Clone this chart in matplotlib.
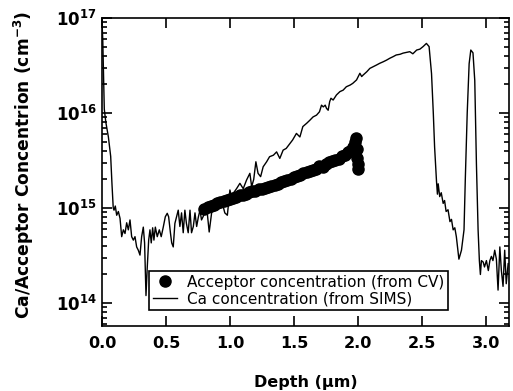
import matplotlib
matplotlib.use("Agg")
import matplotlib.pyplot as plt
from matplotlib.ticker import LogLocator, FixedLocator, FixedFormatter, NullFormatter

# Ca concentration from SIMS
ca_depth = [0.000, 0.006, 0.012, 0.018, 0.030, 0.050, 0.068, 0.078, 0.088, 0.094,
            0.104, 0.115, 0.128, 0.141, 0.154, 0.167, 0.180, 0.193, 0.206, 0.219,
            0.232, 0.245, 0.258, 0.271, 0.284, 0.297, 0.310, 0.323, 0.333, 0.344,
            0.354, 0.365, 0.375, 0.385, 0.396, 0.406, 0.417, 0.432, 0.448, 0.463,
            0.479, 0.495, 0.510, 0.521, 0.535, 0.545, 0.557, 0.570, 0.583, 0.596,
            0.609, 0.622, 0.635, 0.648, 0.660, 0.674, 0.688, 0.700, 0.714, 0.727,
            0.740, 0.753, 0.766, 0.778, 0.790, 0.805, 0.818, 0.838, 0.857, 0.870,
            0.883, 0.896, 0.909, 0.922, 0.935, 0.960, 0.980, 1.000, 1.013, 1.026,
            1.052, 1.078, 1.104, 1.130, 1.156, 1.170, 1.186, 1.203, 1.220, 1.240,
            1.260, 1.287, 1.310, 1.340, 1.365, 1.390, 1.416, 1.440, 1.470, 1.490,
            1.520, 1.547, 1.570, 1.600, 1.625, 1.650, 1.677, 1.700, 1.716, 1.730,
            1.745, 1.755, 1.768, 1.780, 1.790, 1.807, 1.833, 1.860, 1.885, 1.910,
            1.940, 1.960, 1.990, 2.016, 2.030, 2.040, 2.070, 2.094, 2.120, 2.146,
            2.170, 2.200, 2.224, 2.250, 2.276, 2.300, 2.330, 2.354, 2.380, 2.406,
            2.430, 2.460, 2.485, 2.510, 2.536, 2.557, 2.576, 2.590, 2.600, 2.615,
            2.622, 2.628, 2.640, 2.652, 2.667, 2.678, 2.690, 2.705, 2.720, 2.732,
            2.745, 2.758, 2.770, 2.790, 2.810, 2.830, 2.840, 2.855, 2.870, 2.883,
            2.900, 2.914, 2.927, 2.940, 2.950, 2.958, 2.966, 2.980, 2.990, 3.005,
            3.020, 3.032, 3.044, 3.056, 3.070, 3.083, 3.096, 3.110, 3.122, 3.135,
            3.148, 3.160, 3.175]
ca_conc = [9.0e16, 6.0e16, 2.5e16, 1.1e16, 8.0e15, 5.6e15, 3.5e15, 1.8e15, 1.0e15, 9.5e14,
           1.05e15, 8.4e14, 9.2e14, 7.8e14, 5.0e14, 5.9e14, 5.4e14, 7.0e14, 5.9e14, 7.5e14,
           5.0e14, 4.6e14, 5.0e14, 3.9e14, 3.6e14, 3.2e14, 5.0e14, 6.3e14, 4.3e14, 1.2e14,
           2.4e14, 4.6e14, 5.9e14, 4.3e14, 6.2e14, 4.6e14, 6.3e14, 5.0e14, 5.9e14, 5.0e14,
           6.3e14, 8.1e14, 8.8e14, 8.1e14, 5.5e14, 4.3e14, 3.9e14, 6.9e14, 8.1e14, 9.5e14,
           6.4e14, 8.9e14, 5.5e14, 9.5e14, 6.9e14, 5.5e14, 9.5e14, 5.5e14, 6.4e14, 8.9e14,
           6.4e14, 8.0e14, 9.5e14, 7.5e14, 8.1e14, 9.0e14, 1.03e15, 5.6e14, 8.9e14, 1.0e15,
           1.12e15, 9.8e14, 1.03e15, 1.1e15, 1.21e15, 8.9e14, 8.4e14, 1.55e15, 1.3e15, 1.43e15,
           1.6e15, 1.82e15, 1.6e15, 1.97e15, 2.32e15, 1.68e15, 2.0e15, 3.07e15, 2.32e15, 2.14e15,
           2.72e15, 3.07e15, 3.47e15, 3.6e15, 3.9e15, 3.33e15, 4.07e15, 4.24e15, 4.8e15, 5.2e15,
           6.1e15, 5.6e15, 7.2e15, 7.8e15, 8.4e15, 9.1e15, 9.5e15, 1.03e16, 1.21e16, 1.16e16,
           1.21e16, 1.12e16, 1.07e16, 1.32e16, 1.43e16, 1.37e16, 1.55e16, 1.68e16, 1.74e16, 1.89e16,
           1.97e16, 2.05e16, 2.23e16, 2.62e16, 2.42e16, 2.5e16, 2.72e16, 2.95e16, 3.07e16, 3.2e16,
           3.33e16, 3.47e16, 3.6e16, 3.77e16, 3.92e16, 4.08e16, 4.15e16, 4.27e16, 4.35e16, 4.42e16,
           4.2e16, 4.6e16, 4.7e16, 5.0e16, 5.4e16, 5.0e16, 2.6e16, 9.9e15, 4.4e15, 1.9e15,
           1.4e15, 1.8e15, 1.32e15, 1.45e15, 1.12e15, 1.2e15, 9.2e14, 9.6e14, 7.2e14, 7.6e14,
           5.9e14, 6.2e14, 5.0e14, 2.9e14, 3.6e14, 5.9e14, 2.0e15, 1.0e16, 3.3e16, 4.6e16,
           4.3e16, 2.2e16, 2.9e15, 5.9e14, 2.8e14, 2.0e14, 2.8e14, 2.7e14, 2.4e14, 2.8e14,
           2.2e14, 2.8e14, 3.1e14, 2.8e14, 3.6e14, 2.9e14, 1.37e14, 3.9e14, 2.2e14, 1.5e14,
           3.6e14, 1.6e14, 2.6e14]

# acceptor concentration from CV
cv_depth = [0.800, 0.825, 0.850, 0.875, 0.900, 0.925, 0.950, 0.975, 1.000, 1.025,
            1.050, 1.075, 1.100, 1.125, 1.150, 1.175, 1.200, 1.225, 1.250, 1.275,
            1.300, 1.325, 1.350, 1.375, 1.400, 1.425, 1.450, 1.475, 1.500, 1.525,
            1.550, 1.575, 1.600, 1.625, 1.650, 1.675, 1.700, 1.725, 1.750, 1.775,
            1.800, 1.825, 1.850, 1.875, 1.900, 1.920, 1.940, 1.960, 1.975, 1.985,
            1.990, 1.995, 2.000, 2.005]
cv_conc = [9.8e14, 1.02e15, 1.06e15, 1.08e15, 1.12e15, 1.15e15, 1.18e15, 1.22e15, 1.25e15, 1.28e15,
           1.32e15, 1.36e15, 1.38e15, 1.42e15, 1.46e15, 1.50e15, 1.53e15, 1.57e15, 1.60e15, 1.64e15,
           1.68e15, 1.72e15, 1.76e15, 1.80e15, 1.86e15, 1.92e15, 1.98e15, 2.04e15, 2.10e15, 2.16e15,
           2.24e15, 2.32e15, 2.38e15, 2.45e15, 2.52e15, 2.60e15, 2.80e15, 2.70e15, 2.90e15, 3.05e15,
           3.1e15, 3.2e15, 3.3e15, 3.5e15, 3.6e15, 3.9e15, 4.0e15, 4.4e15, 5.0e15, 5.5e15,
           4.2e15, 3.4e15, 2.9e15, 2.6e15]

x_ticks = [0.0, 0.5, 1.0, 1.5, 2.0, 2.5, 3.0]
y_ticks = [1e14, 1e15, 1e16, 1e17]
y_tick_labels = [r"$\mathbf{10^{14}}$", r"$\mathbf{10^{15}}$", r"$\mathbf{10^{16}}$", r"$\mathbf{10^{17}}$"]

plt.rcParams["font.family"] = ["DejaVu Sans"]
plt.rcParams["mathtext.fontset"] = "dejavusans"

fig = plt.figure(figsize=(5.13, 3.91), dpi=100)
ax = fig.add_axes([0.1988, 0.166, 0.793, 0.788])

ax.plot(cv_depth, cv_conc, "o", color="black", markersize=8, linestyle="none",
        label="Acceptor concentration (from CV)")
ax.plot(ca_depth, ca_conc, "-", color="black", linewidth=1.0,
        label="Ca concentration (from SIMS)")

ax.set_yscale("log")
ax.set_xlim(0, 3.18)
ax.set_ylim(10 ** 13.758, 1e17)

ax.xaxis.set_major_locator(FixedLocator(x_ticks))
ax.set_xticklabels(["%.1f" % t for t in x_ticks], fontweight="bold", fontsize=11.5)
ax.yaxis.set_major_locator(FixedLocator(y_ticks))
ax.yaxis.set_major_formatter(FixedFormatter(y_tick_labels))
ax.yaxis.set_minor_locator(LogLocator(base=10, subs=range(2, 10), numticks=20))
ax.yaxis.set_minor_formatter(NullFormatter())
for lab in ax.get_yticklabels():
    lab.set_fontsize(12)

ax.tick_params(which="both", direction="in", top=True, right=True, width=1.2)
ax.tick_params(which="major", length=7.5)
ax.tick_params(which="minor", length=3.8)
ax.tick_params(axis="x", pad=7)
ax.tick_params(axis="y", pad=4)
for s in ax.spines.values():
    s.set_linewidth(1.2)

ax.set_xlabel("Depth (\u00b5m)", fontweight="bold", fontsize=11.5)
ax.xaxis.label.set_va("center")
ax.xaxis.set_label_coords(0.5, -0.182)
ax.set_ylabel("Ca/Acceptor Concentrion (cm$^{\\mathbf{-3}}$)", fontweight="bold", fontsize=12.3)
ax.yaxis.label.set_va("center")
ax.yaxis.set_label_coords(-0.192, 0.523)

leg = ax.legend(loc="lower left", bbox_to_anchor=(0.116, 0.052), borderaxespad=0,
                fancybox=False, framealpha=1, edgecolor="black", fontsize=11,
                borderpad=0.25, labelspacing=0.1, handletextpad=0.6, handlelength=1.6)
leg.get_frame().set_linewidth(1.2)

fig.savefig("out.png", dpi=100)
